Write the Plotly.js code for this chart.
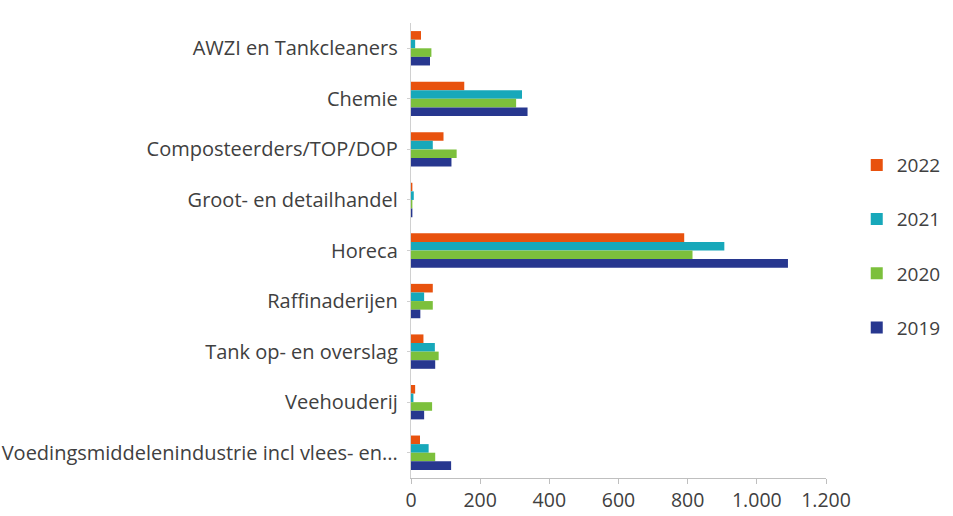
<!DOCTYPE html>
<html>
<head>
<meta charset="utf-8">
<script src="https://cdn.plot.ly/plotly-3.0.1.min.js"></script>
<style>html,body{margin:0;padding:0;background:#fff;}#chart{width:953px;height:516px;}</style>
</head>
<body>
<div id="chart"></div>
<script>
const categories = [
  "AWZI en Tankcleaners",
  "Chemie",
  "Composteerders/TOP/DOP",
  "Groot- en detailhandel",
  "Horeca",
  "Raffinaderijen",
  "Tank op- en overslag",
  "Veehouderij",
  "Voedingsmiddelenindustrie incl vlees- en..."
];
const years = ["2022", "2021", "2020", "2019"];
const v2022 = [29, 154, 94, 4, 790, 63, 36, 12, 26];
const v2021 = [12, 321, 63, 8, 906, 38, 69, 7, 51];
const v2020 = [59, 304, 132, 4, 814, 63, 80, 61, 70];
const v2019 = [55, 337, 117, 4, 1090, 27, 70, 38, 116];
const colors = ["#E8520E", "#17A8BA", "#7CC03C", "#27378F"];

const series = [v2022, v2021, v2020, v2019];
const traces = series.map((vals, i) => ({
  type: "bar",
  orientation: "h",
  name: years[i],
  legendgroup: years[i],
  y: categories,
  x: vals,
  marker: {color: colors[i]},
  hoverinfo: "x+name"
}));

const layout = {
  width: 953,
  height: 516,
  margin: {l: 411, r: 127, t: 23, b: 38, autoexpand: false},
  paper_bgcolor: "#fff",
  plot_bgcolor: "#fff",
  barmode: "group",
  bargap: 0.32,
  bargroupgap: 0,
  font: {family: "Open Sans, sans-serif", size: 19, color: "#404040"},
  xaxis: {
    range: [0, 1200],
    tickvals: [0, 200, 400, 600, 800, 1000, 1200],
    ticktext: ["0", "200", "400", "600", "800", "1.000", "1.200"],
    showgrid: false,
    zeroline: false,
    showline: true,
    linecolor: "#bfbfbf",
    linewidth: 1,
    ticks: "outside",
    ticklen: 5,
    tickcolor: "#bfbfbf",
    tickfont: {size: 19.5, color: "#404040"}
  },
  yaxis: {
    autorange: "reversed",
    showgrid: false,
    zeroline: false,
    showline: true,
    linecolor: "#d0d0d0",
    linewidth: 1,
    ticks: "outside",
    ticklen: 3,
    tickcolor: "#d0d0d0",
    ticksuffix: " ",
    tickfont: {size: 20, color: "#404040"}
  },
  legend: {
    xref: "container", yref: "container",
    x: 0.899, xanchor: "left",
    y: 0.717, yanchor: "top",
    font: {size: 19, color: "#404040"},
    tracegroupgap: 26.5,
    itemwidth: 30
  },
  showlegend: true
};

Plotly.newPlot("chart", traces, layout, {displayModeBar: false, staticPlot: true});
</script>
</body>
</html>
